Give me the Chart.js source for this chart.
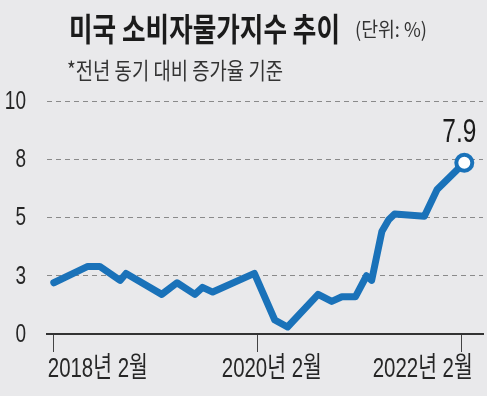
<!DOCTYPE html>
<html>
<head>
<meta charset="utf-8">
<script src="https://cdn.jsdelivr.net/npm/chart.js@4"></script>
<style>
  html, body { margin: 0; padding: 0; background: #e9e9eb; }
  #wrap { width: 487px; height: 396px; position: relative; }
</style>
</head>
<body>
<div id="wrap"><canvas id="cpiChart" width="487" height="396"></canvas></div>
<script>
// months counted from Feb 2018 (0) to Feb 2022 (48)
const monthIdx = [0, 4, 5.4, 7.8, 8.5, 12.7, 14.5, 16.6, 17.5, 18.7, 23.6, 26, 27.5, 31.1, 32.7, 33.9, 35.5, 36.8, 37.4, 38.6, 39.4, 40.1, 43.6, 45.1, 48.3];
const cpiValues = [2.2, 2.9, 2.9, 2.3, 2.6, 1.7, 2.2, 1.7, 2.0, 1.8, 2.6, 0.6, 0.3, 1.7, 1.4, 1.6, 1.6, 2.5, 2.3, 4.4, 4.9, 5.15, 5.05, 6.2, 7.35];
const latestLabel = '7.9';

const xTickValues = [0, 24, 48];
const xTickLabels = ['2018년 2월', '2020년 2월', '2022년 2월'];
const yTickValues = [0, 2.5, 5, 7.5, 10];

const titleText = '미국 소비자물가지수 추이';
const unitText = '(단위: %)';
const noteText = '*전년 동기 대비 증가율 기준';

const NUMFONT = "'Liberation Sans', 'Noto Sans CJK KR', sans-serif";
const KFONT = "'Noto Sans CJK KR', sans-serif";
const SQUEEZE = 0.75; // the original uses a condensed face

// draws text squeezed horizontally, either by a fixed factor or to a width
function drawNarrow(ctx, text, x, y, opts) {
    const w = ctx.measureText(text).width;
    const sx = opts.width ? opts.width / w : (opts.scale || SQUEEZE);
    ctx.save();
    ctx.translate(x, y);
    ctx.scale(sx, 1);
    ctx.fillText(text, 0, 0);
    ctx.restore();
}

const headerPlugin = {
    id: 'header',
    beforeDraw(chart) {
        const ctx = chart.ctx;
        ctx.save();
        ctx.textBaseline = 'middle';
        ctx.textAlign = 'left';
        ctx.fillStyle = '#1b1b1b';
        ctx.font = 'bold 32px ' + KFONT;
        drawNarrow(ctx, titleText, 69, 29, { width: 271 });
        ctx.fillStyle = '#333';
        ctx.font = '20px ' + KFONT;
        drawNarrow(ctx, unitText, 355, 29, { width: 72 });
        ctx.font = '23px ' + KFONT;
        drawNarrow(ctx, noteText, 67, 70, { width: 216 });
        ctx.restore();
    }
};

// tick labels, squeezed like the original
const xLabelAlign = ['left', 'center', 'right'];
const xLabelShift = [-6, 14, 11];
const tickLabelPlugin = {
    id: 'tickLabels',
    afterDraw(chart) {
        const ctx = chart.ctx;
        const xs = chart.scales.x, ys = chart.scales.y;
        ctx.save();
        ctx.fillStyle = '#262626';
        ctx.textBaseline = 'middle';
        ctx.font = '25px ' + NUMFONT;
        ctx.textAlign = 'right';
        yTickValues.forEach(v => {
            drawNarrow(ctx, String(Math.round(v)), 26, ys.getPixelForValue(v) + 1, { scale: 0.76 });
        });
        ctx.font = '28px ' + NUMFONT;
        xTickValues.forEach((v, i) => {
            ctx.textAlign = xLabelAlign[i];
            drawNarrow(ctx, xTickLabels[i], xs.getPixelForValue(v) + xLabelShift[i], xs.bottom - 27, { width: 100 });
        });
        ctx.restore();
    }
};

const lastLabelPlugin = {
    id: 'lastLabel',
    afterDatasetsDraw(chart) {
        const meta = chart.getDatasetMeta(0);
        const pt = meta.data[meta.data.length - 1];
        const ctx = chart.ctx;
        ctx.save();
        ctx.fillStyle = '#1b1b1b';
        ctx.font = '33px ' + NUMFONT;
        ctx.textAlign = 'center';
        ctx.textBaseline = 'alphabetic';
        drawNarrow(ctx, latestLabel, pt.x - 5, pt.y - 21, { width: 34 });
        ctx.restore();
    }
};

const ctx = document.getElementById('cpiChart');

new Chart(ctx, {
    type: 'line',
    data: {
        datasets: [{
            data: monthIdx.map((m, i) => ({ x: m, y: cpiValues[i] })),
            borderColor: '#1a72b9',
            borderWidth: 7,
            borderJoinStyle: 'round',
            borderCapStyle: 'round',
            tension: 0,
            fill: false,
            clip: false,
            pointRadius: monthIdx.map((m, i) => i === monthIdx.length - 1 ? 8 : 0),
            pointBackgroundColor: '#ffffff',
            pointBorderColor: '#1a72b9',
            pointBorderWidth: 4
        }]
    },
    options: {
        responsive: false,
        animation: false,
        events: [],
        layout: { autoPadding: false, padding: { left: 0, right: 4, top: 101, bottom: 0 } },
        plugins: {
            legend: { display: false },
            tooltip: { enabled: false }
        },
        scales: {
            x: {
                type: 'linear',
                min: -0.8,
                max: 50.5,
                afterBuildTicks: (scale) => { scale.ticks = xTickValues.map(v => ({ value: v })); },
                afterFit: (scale) => { scale.height = 62; },
                ticks: { display: false },
                grid: {
                    drawOnChartArea: false,
                    drawTicks: true,
                    tickLength: 18,
                    color: '#444',
                    lineWidth: 1
                },
                border: { display: true, color: '#333', width: 2 }
            },
            y: {
                min: 0,
                max: 10,
                afterBuildTicks: (scale) => { scale.ticks = yTickValues.map(v => ({ value: v })); },
                afterFit: (scale) => { scale.width = 47; },
                ticks: { display: false },
                grid: {
                    drawTicks: false,
                    color: (c) => c.tick && c.tick.value === 0 ? 'rgba(0,0,0,0)' : '#8a8a8a',
                    lineWidth: 1
                },
                border: { display: false, dash: [5, 4] }
            }
        }
    },
    plugins: [headerPlugin, tickLabelPlugin, lastLabelPlugin]
});
</script>
</body>
</html>
